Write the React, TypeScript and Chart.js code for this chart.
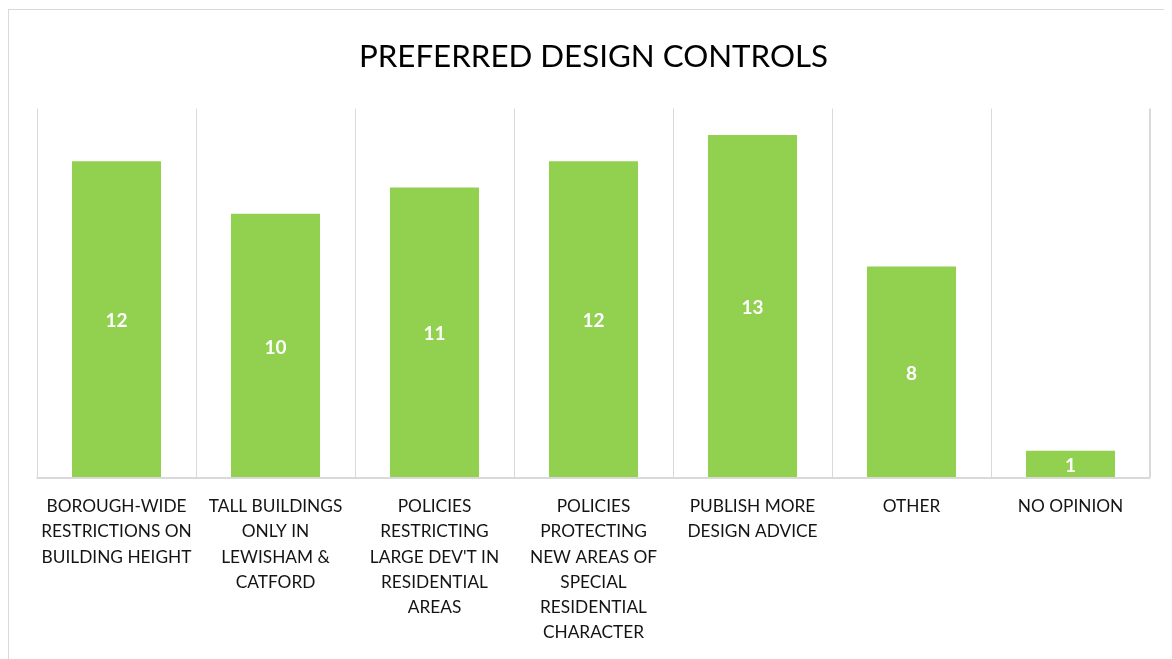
import React, { useEffect, useRef } from "react";
import { Chart, registerables } from "chart.js";

Chart.register(...registerables);

const titleText = "PREFERRED DESIGN CONTROLS";
const categories: string[][] = [
  ["BOROUGH-WIDE", "RESTRICTIONS ON", "BUILDING HEIGHT"],
  ["TALL BUILDINGS", "ONLY IN", "LEWISHAM &", "CATFORD"],
  ["POLICIES", "RESTRICTING", "LARGE DEV'T IN", "RESIDENTIAL", "AREAS"],
  ["POLICIES", "PROTECTING", "NEW AREAS OF", "SPECIAL", "RESIDENTIAL", "CHARACTER"],
  ["PUBLISH MORE", "DESIGN ADVICE"],
  ["OTHER"],
  ["NO OPINION"],
];
const values: number[] = [12, 10, 11, 12, 13, 8, 1];
const yMax = 14;

const FONT = "Lato, 'Open Sans', sans-serif";
const GRID = "#d9d9d9";

const valueLabels = {
  id: "valueLabels",
  afterDatasetsDraw(chart: any) {
    const ctx = chart.ctx;
    const meta = chart.getDatasetMeta(0);
    ctx.save();
    ctx.fillStyle = "#ffffff";
    ctx.font = `bold 19px ${FONT}`;
    ctx.textAlign = "center";
    ctx.textBaseline = "middle";
    meta.data.forEach((bar: any, i: number) => {
      const y = (bar.y + bar.base) / 2;
      ctx.fillText(String(values[i]), bar.x, y + 2);
    });
    ctx.restore();
  },
};

const frameLines = {
  id: "frameLines",
  afterDatasetsDraw(chart: any) {
    const { ctx, chartArea } = chart;
    const xs = chart.scales.x;
    const ys = chart.scales.y;
    const y0 = ys.getPixelForValue(0);
    const n = categories.length;
    const step = (xs.getPixelForTick(n - 1) - xs.getPixelForTick(0)) / (n - 1);
    const x1 = xs.getPixelForTick(0) - step / 2;
    const x2 = xs.getPixelForTick(n - 1) + step / 2;
    ctx.save();
    ctx.strokeStyle = GRID;
    // right edge gridline
    ctx.lineWidth = 1;
    ctx.beginPath();
    const xr = Math.round(x2) - 0.5;
    ctx.moveTo(xr, chartArea.top);
    ctx.lineTo(xr, y0);
    ctx.stroke();
    // baseline
    ctx.lineWidth = 2;
    ctx.beginPath();
    ctx.moveTo(x1 - 0.5, y0 + 1);
    ctx.lineTo(x2 + 0.5, y0 + 1);
    ctx.stroke();
    ctx.restore();
  },
};

export default function App() {
  const ref = useRef<HTMLCanvasElement>(null);
  useEffect(() => {
    if (!ref.current) return;
    const chart = new Chart(ref.current, {
      type: "bar",
      data: {
        labels: categories,
        datasets: [
          {
            data: values,
            backgroundColor: "#92D050",
            barPercentage: 0.56,
            categoryPercentage: 1,
          },
        ],
      },
      options: {
        animation: false,
        responsive: false,
        maintainAspectRatio: false,
        layout: { padding: { left: 28, right: 22, top: 0, bottom: 0 } },
        plugins: {
          legend: { display: false },
          tooltip: { enabled: false },
          title: {
            display: true,
            text: titleText,
            color: "#000000",
            font: { family: FONT, size: 31.3, weight: "normal" },
            padding: { top: 28, bottom: 33 },
          },
        },
        scales: {
          x: {
            grid: { display: true, color: GRID, lineWidth: 1, offset: true, drawTicks: false },
            border: { display: false },
            ticks: {
              color: "#141414",
              font: { family: FONT, size: 17.3, lineHeight: 1.46 },
              padding: 17,
              maxRotation: 0,
              minRotation: 0,
              autoSkip: false,
            },
            afterFit: (scale: any) => {
              scale.height = 182;
            },
          },
          y: {
            display: false,
            min: 0,
            max: yMax,
          },
        },
      },
      plugins: [valueLabels, frameLines],
    });
    return () => chart.destroy();
  }, []);
  return (
    <div
      style={{
        width: 1164,
        height: 650,
        borderLeft: "1px solid #d9d9d9",
        borderTop: "1px solid #d9d9d9",
        boxSizing: "border-box",
        overflow: "hidden",
        marginTop: 1,
      }}
    >
      <canvas ref={ref} width={1163} height={649} style={{ display: "block" }} />
    </div>
  );
}
